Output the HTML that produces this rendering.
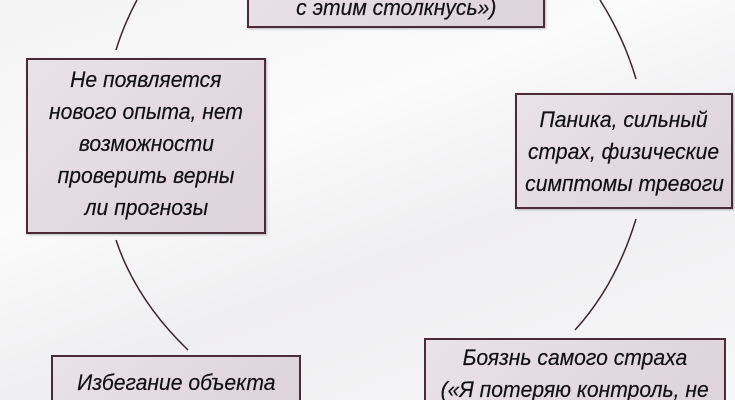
<!DOCTYPE html>
<html><head><meta charset="utf-8"><style>
html,body{margin:0;padding:0;width:735px;height:400px;overflow:hidden}
body{position:relative;background:linear-gradient(160deg,#f4f3f4 0%,#fbfbfb 35%,#efeef0 60%,#f7f7f8 100%);font-family:"Liberation Sans",sans-serif}
.b{position:absolute;box-sizing:border-box;border:2px solid #4a2c38;background:linear-gradient(135deg,#e9e2e6,#ddd3d9);color:#111;font-style:italic;font-size:22px;line-height:32px;text-align:center;box-shadow:1px 1px 2px rgba(0,0,0,.25);overflow:hidden}
.b span{display:inline-block;transform:scaleX(.96);white-space:nowrap;-webkit-text-stroke:0.2px #111}
svg{position:absolute;left:0;top:0}
</style></head><body>
<svg width="735" height="400"><g fill="none" stroke="#3a2630" stroke-width="1.5">
<path d="M137,0 Q124,24 116,50"/>
<path d="M116,240 Q136,300 188,350"/>
<path d="M600,0 Q624,38 636,79"/>
<path d="M636,219 Q616,285 575,330"/>
</g></svg>
<div class="b" style="left:247px;top:-40px;width:298px;height:68px;padding-top:30px"><span>с этим столкнусь»)</span></div>
<div class="b" style="left:26px;top:58px;width:240px;height:176px;padding-top:4px"><span>Не появляется</span><br><span>нового опыта, нет</span><br><span>возможности</span><br><span>проверить верны</span><br><span>ли прогнозы</span></div>
<div class="b" style="left:515px;top:93px;width:218px;height:116px;padding-top:9px"><span>Паника, сильный</span><br><span>страх, физические</span><br><span>симптомы тревоги</span></div>
<div class="b" style="left:51px;top:355px;width:250px;height:47px;padding-top:10px;box-shadow:none"><span>Избегание объекта</span></div>
<div class="b" style="left:424px;top:338px;width:302px;height:64px;padding-top:2px;box-shadow:none"><span>Боязнь самого страха</span><br><span>(«Я потеряю контроль, не</span></div>
</body></html>
